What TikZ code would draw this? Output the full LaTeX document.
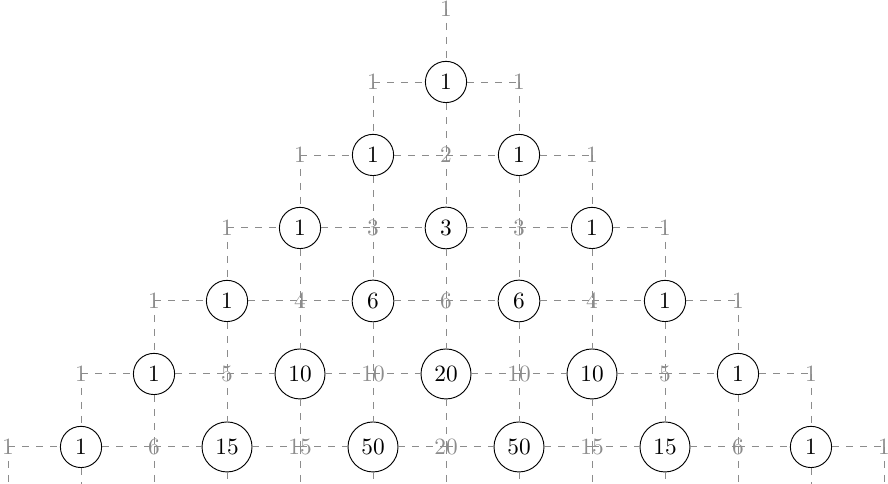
\documentclass[tikz,border=0pt]{standalone}
\usepackage{tikz}
\usetikzlibrary{positioning}

\begin{document}
\begin{tikzpicture}[
    x=1.1cm, y=1.1cm,
    cell/.style={draw, circle, text=black},
    edgeval/.style={text=black!45, inner sep=0pt},
    link/.style={dashed, black!45},
]
\path[use as bounding box, clip] (-6.11,-6.507) rectangle (6.055,0.123);

% row / values (odd positions are circled)
\foreach \r/\vals in {0/{1}, 1/{1,1,1}, 2/{1,1,2,1,1}, 3/{1,1,3,3,3,1,1},
    4/{1,1,4,6,6,6,4,1,1}, 5/{1,1,5,10,10,20,10,10,5,1,1},
    6/{1,1,6,15,15,50,20,50,15,15,6,1,1}} {
  \foreach \v [count=\k from 0] in \vals {
    \ifodd\k\relax
      \node[cell] (n-\r-\k) at (\k-\r,-\r) {\v};
    \else
      \coordinate[label={[edgeval]center:\v}] (n-\r-\k) at (\k-\r,-\r);
    \fi
  }
}

% horizontal links
\foreach \r in {1,...,6} {
  \pgfmathtruncatemacro\last{2*\r-1}
  \foreach \k in {0,...,\last} {
    \pgfmathtruncatemacro\nk{\k+1}
    \draw[link] (n-\r-\k) -- (n-\r-\nk);
  }
}

% vertical links
\foreach \r in {0,...,5} {
  \pgfmathtruncatemacro\last{2*\r}
  \pgfmathtruncatemacro\nr{\r+1}
  \foreach \k in {0,...,\last} {
    \pgfmathtruncatemacro\nk{\k+1}
    \draw[link] (n-\r-\k) -- (n-\nr-\nk);
  }
}
\foreach \k in {0,...,12} {
  \coordinate (foot-\k) at (\k-6,-6.8);
  \draw[link] (n-6-\k) -- (foot-\k);
}
\end{tikzpicture}
\end{document}
